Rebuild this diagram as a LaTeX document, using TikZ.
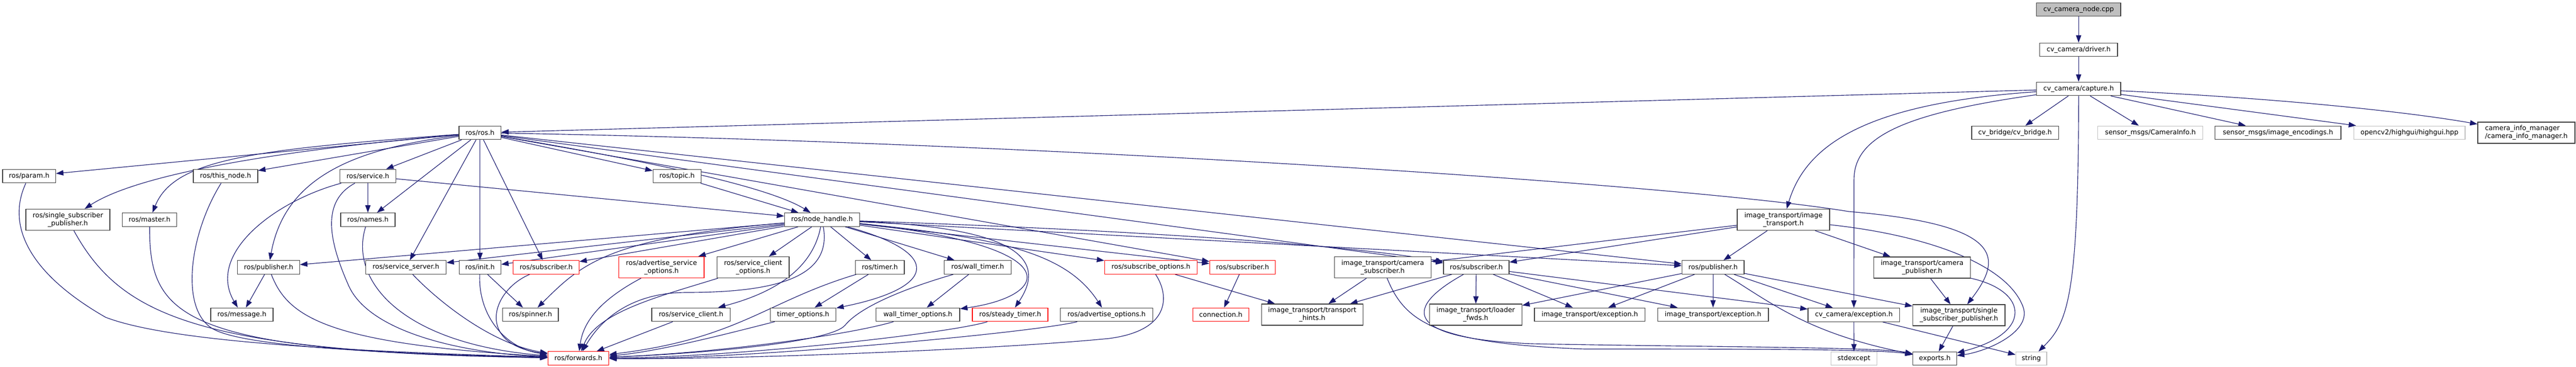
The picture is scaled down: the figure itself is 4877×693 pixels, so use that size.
\documentclass[tikz,border=0pt]{standalone}
\usepackage{fontspec}
\setmainfont{DejaVu Sans}
\usetikzlibrary{arrows.meta,backgrounds}
\definecolor{edgecol}{RGB}{25,25,112}
\definecolor{nodeline}{RGB}{64,64,64}
\definecolor{greyline}{RGB}{191,191,191}
\definecolor{rootfill}{RGB}{191,191,191}
\begin{document}
\begin{tikzpicture}[x=0.75pt,y=-0.75pt,
  nb/.style={draw=nodeline, line width=1pt, fill=white, inner sep=0pt, minimum height=19.1pt, font=\fontsize{9.5}{11.2}\selectfont, text=black},
  two/.style={minimum height=30pt, align=center},
  redb/.style={nb, draw=red},
  greyb/.style={nb, draw=greyline},
  rootb/.style={nb, fill=rootfill},
  e/.style={draw=edgecol, line width=0.85pt, -{Triangle[length=10.5pt,width=7.5pt]}}]
\begin{scope}[on background layer]
\fill[white] (0,0) rectangle (4877,693);
\end{scope}
\path[use as bounding box] (0,0) rectangle (4877,693);
% row 0-2
\node[rootb, minimum width=119.5pt] (cpp) at (3935.3,18) {cv\_camera\_node.cpp};
\node[nb, minimum width=110.5pt] (driver) at (3935.3,94) {cv\_camera/driver.h};
\node[nb, minimum width=119.3pt] (capture) at (3935.3,168) {cv\_camera/capture.h};
% row 251
\node[nb, minimum width=59.5pt] (ros) at (908.7,251) {ros/ros.h};
\node[nb, minimum width=123.2pt] (cvbridge) at (3815,251) {cv\_bridge/cv\_bridge.h};
\node[greyb, minimum width=149.3pt] (caminfo) at (4071.2,251) {sensor\_msgs/CameraInfo.h};
\node[nb, minimum width=178.9pt] (imenc) at (4312.6,251) {sensor\_msgs/image\_encodings.h};
\node[greyb, minimum width=158pt] (highgui) at (4561.7,251) {opencv2/highgui/highgui.hpp};
\node[nb, minimum height=30pt, align=left, minimum width=138pt] (caminfomgr) at (4783,251) {camera\_info\_manager\\/camera\_info\_manager.h};
% row 333
\node[nb, minimum width=75.2pt] (param) at (55.2,333) {ros/param.h};
\node[nb, minimum width=91.5pt] (thisnode) at (427,333) {ros/this\_node.h};
\node[nb, minimum width=79.3pt] (service) at (696.5,333) {ros/service.h};
\node[nb, minimum width=68.3pt] (topic) at (1281.8,333) {ros/topic.h};
% row 415
\node[nb, two, minimum width=119.3pt] (ssp) at (128.5,415.5) {ros/single\_subscriber\\\_publisher.h};
\node[nb, minimum width=77.3pt] (master) at (283.2,415.5) {ros/master.h};
\node[nb, minimum width=77.3pt] (names) at (696.5,415.5) {ros/names.h};
\node[nb, minimum width=106.5pt] (nh) at (1556.3,415.5) {ros/node\_handle.h};
\node[nb, two, minimum width=131.3pt] (itimg) at (3376.5,415.5) {image\_transport/image\\\_transport.h};
% row 505
\node[nb, minimum width=88.2pt] (pub1) at (508.5,505.5) {ros/publisher.h};
\node[nb, minimum width=114.3pt] (srvserver) at (768.5,505.5) {ros/service\_server.h};
\node[nb, minimum width=59.3pt] (init) at (908.7,505.5) {ros/init.h};
\node[redb, minimum width=93.5pt] (sub1) at (1034,505.5) {ros/subscriber.h};
\node[redb, two, minimum width=121pt] (advsrvopt) at (1252.3,505.5) {ros/advertise\_service\\\_options.h};
\node[nb, two, minimum width=102.2pt] (srvclopt) at (1425.8,505.5) {ros/service\_client\\\_options.h};
\node[nb, minimum width=69.2pt] (timer) at (1665.8,505.5) {ros/timer.h};
\node[nb, minimum width=95pt] (walltimer) at (1851,505.5) {ros/wall\_timer.h};
\node[redb, minimum width=131.6pt] (subopt) at (2179,505.5) {ros/subscribe\_options.h};
\node[redb, minimum width=93.3pt] (sub2) at (2352.5,505.5) {ros/subscriber.h};
\node[nb, two, minimum width=137.3pt] (camsub) at (2617.8,505.5) {image\_transport/camera\\\_subscriber.h};
\node[nb, minimum width=93pt] (sub3) at (2795,505.5) {ros/subscriber.h};
\node[nb, minimum width=88.3pt] (pub2) at (3243.2,505.5) {ros/publisher.h};
\node[nb, two, minimum width=137pt] (campub) at (3639,506) {image\_transport/camera\\\_publisher.h};
% row 595
\node[nb, minimum width=88.3pt] (message) at (458,595) {ros/message.h};
\node[nb, minimum width=79pt] (spinner) at (1004.3,595) {ros/spinner.h};
\node[nb, minimum width=111.5pt] (srvclient) at (1308.3,595) {ros/service\_client.h};
\node[nb, minimum width=93.3pt] (timeropt) at (1520.5,595) {timer\_options.h};
\node[nb, minimum width=119pt] (walltimeropt) at (1737.7,595) {wall\_timer\_options.h};
\node[redb, minimum width=107.3pt] (steady) at (1912.5,595) {ros/steady\_timer.h};
\node[nb, minimum width=131.6pt] (advopt) at (2095,595) {ros/advertise\_options.h};
\node[redb, minimum width=79.5pt] (connection) at (2311.3,595) {connection.h};
\node[nb, two, minimum width=144pt] (hints) at (2484.3,595) {image\_transport/transport\\\_hints.h};
\node[nb, two, minimum width=131.3pt] (loader) at (2793.8,595) {image\_transport/loader\\\_fwds.h};
\node[nb, minimum width=157.3pt] (exc1) at (3009.8,595) {image\_transport/exception.h};
\node[nb, minimum width=157.3pt] (exc2) at (3243.2,595) {image\_transport/exception.h};
\node[nb, minimum width=130.3pt] (cvexc) at (3509.8,595.5) {cv\_camera/exception.h};
\node[nb, two, minimum width=131pt] (itssp) at (3708.7,596) {image\_transport/single\\\_subscriber\_publisher.h};
% row 678
\node[redb, minimum width=86.6pt] (forwards) at (1095,677.5) {ros/forwards.h};
\node[greyb, minimum width=65pt] (stdexcept) at (3510,678) {stdexcept};
\node[nb, minimum width=62pt] (exports) at (3663,678) {exports.h};
\node[greyb, minimum width=44pt] (string) at (3845.7,678) {string};

\begin{scope}[on background layer]
% capture
\draw[e] (cpp) -- (driver);
\draw[e] (driver) -- (capture);
\draw[e] (capture) -- (ros);
\draw[e] (capture) .. controls (3540,195) and (3420,270) .. (itimg);
\draw[e] (capture) .. controls (3600,215) and (3510,260) .. (3510,340) -- (cvexc);
\draw[e] (capture) -- (cvbridge);
\draw[e] (capture) -- (caminfo);
\draw[e] (capture) -- (imenc);
\draw[e] (capture) -- (highgui);
\draw[e] (capture) .. controls (4300,185) and (4550,210) .. (caminfomgr);
\draw[e] (capture) .. controls (3935,560) and (3915,610) .. (string);
% ros
\draw[e] (ros) -- (param);
\draw[e] (ros) .. controls (520,285) and (260,330) .. (ssp);
\draw[e] (ros) .. controls (480,283) and (330,300) .. (master);
\draw[e] (ros) -- (thisnode);
\draw[e] (ros) .. controls (680,280) and (540,330) .. (pub1);
\draw[e] (ros) -- (service);
\draw[e] (ros) -- (names);
\draw[e] (ros) -- (srvserver);
\draw[e] (ros) -- (init);
\draw[e] (ros) -- (sub1);
\draw[e] (ros) -- (topic);
\draw[e] (ros) .. controls (1200,300) and (1450,350) .. (nh);
\draw[e] (ros) -- (sub2);
\draw[e] (ros) -- (pub2);
\draw[e] (ros) -- (sub3);
\draw[e] (ros) .. controls (2000,270) and (3200,350) .. (3500,400) .. controls (3800,425) and (3790,490) .. (itssp);
% service, names, topic
\draw[e] (service) -- (names);
\draw[e] (service) .. controls (520,380) and (390,480) .. (message);
\draw[e] (service) .. controls (610,380) and (620,450) .. (660,540) .. controls (700,630) and (880,668) .. (forwards);
\draw[e] (service) -- (nh);
\draw[e] (topic) -- (nh);
\draw[e] (names) .. controls (660,530) and (760,650) .. (forwards);
% left nodes to forwards
\draw[e] (param) .. controls (10,430) and (60,520) .. (200,600) .. controls (330,650) and (700,665) .. (forwards);
\draw[e] (ssp) .. controls (230,600) and (380,665) .. (forwards);
\draw[e] (master) .. controls (283,600) and (340,665) .. (forwards);
\draw[e] (thisnode) .. controls (360,440) and (340,580) .. (400,620) .. controls (460,660) and (800,670) .. (forwards);
\draw[e] (pub1) -- (message);
\draw[e] (pub1) .. controls (545,600) and (620,650) .. (forwards);
\draw[e] (srvserver) .. controls (830,570) and (930,650) .. (forwards);
\draw[e] (init) .. controls (905,600) and (960,660) .. (forwards);
\draw[e] (init) -- (spinner);
\draw[e] (sub1) .. controls (930,550) and (900,650) .. (forwards);
% node_handle
\draw[e] (nh) -- (pub1);
\draw[e] (nh) -- (srvserver);
\draw[e] (nh) -- (init);
\draw[e] (nh) -- (sub1);
\draw[e] (nh) .. controls (1150,450) and (1100,500) .. (spinner);
\draw[e] (nh) -- (advsrvopt);
\draw[e] (nh) -- (srvclopt);
\draw[e] (nh) .. controls (1540,500) and (1480,550) .. (srvclient);
\draw[e] (nh) .. controls (1575,520) and (1480,553) .. (1300,553) .. controls (1200,553) and (1140,600) .. (forwards);
\draw[e] (nh) -- (timer);
\draw[e] (nh) -- (walltimer);
\draw[e] (nh) .. controls (1790,480) and (1770,545) .. (timeropt);
\draw[e] (nh) .. controls (2030,465) and (1990,560) .. (walltimeropt);
\draw[e] (nh) .. controls (1900,430) and (1990,480) .. (steady);
\draw[e] (nh) .. controls (1900,450) and (2020,480) .. (advopt);
\draw[e] (nh) -- (subopt);
\draw[e] (nh) -- (sub2);
\draw[e] (nh) .. controls (2000,430) and (2500,455) .. (sub3);
\draw[e] (nh) -- (pub2);
% middle nodes to forwards
\draw[e] (advsrvopt) .. controls (1150,560) and (1105,600) .. (forwards);
\draw[e] (srvclopt) .. controls (1250,560) and (1130,590) .. (forwards);
\draw[e] (srvclient) -- (forwards);
\draw[e] (timer) -- (timeropt);
\draw[e] (timer) .. controls (1450,570) and (1400,640) .. (forwards);
\draw[e] (walltimer) -- (walltimeropt);
\draw[e] (walltimer) .. controls (1680,555) and (1620,590) .. (1600,615) .. controls (1570,650) and (1300,670) .. (forwards);
\draw[e] (timeropt) .. controls (1400,625) and (1250,665) .. (forwards);
\draw[e] (walltimeropt) .. controls (1600,635) and (1350,668) .. (forwards);
\draw[e] (steady) .. controls (1800,630) and (1400,675) .. (forwards);
\draw[e] (advopt) .. controls (1950,630) and (1400,680) .. (forwards);
\draw[e] (subopt) .. controls (2215,560) and (2215,625) .. (2100,640) .. controls (1900,660) and (1400,680) .. (forwards);
\draw[e] (subopt) -- (hints);
\draw[e] (sub2) -- (connection);
% image_transport side
\draw[e] (camsub) -- (hints);
\draw[e] (camsub) .. controls (2660,610) and (2720,650) .. (3000,660) .. controls (3300,660) and (3560,660) .. (exports);
\draw[e] (sub3) -- (hints);
\draw[e] (sub3) -- (loader);
\draw[e] (sub3) .. controls (2660,580) and (2650,640) .. (2900,650) .. controls (3200,656) and (3560,656) .. (exports);
\draw[e] (sub3) -- (exc1);
\draw[e] (sub3) -- (exc2);
\draw[e] (sub3) -- (cvexc);
\draw[e] (pub2) -- (loader);
\draw[e] (pub2) -- (exc1);
\draw[e] (pub2) -- (exc2);
\draw[e] (pub2) -- (itssp);
\draw[e] (pub2) -- (cvexc);
\draw[e] (pub2) .. controls (3350,570) and (3420,630) .. (exports);
\draw[e] (itimg) -- (camsub);
\draw[e] (itimg) -- (sub3);
\draw[e] (itimg) -- (pub2);
\draw[e] (itimg) -- (campub);
\draw[e] (itimg) .. controls (3650,445) and (3800,500) .. (3830,580) .. controls (3848,628) and (3760,665) .. (exports);
\draw[e] (campub) -- (itssp);
\draw[e] (campub) .. controls (3840,550) and (3850,630) .. (exports);
\draw[e] (itssp) -- (exports);
\draw[e] (cvexc) -- (stdexcept);
\draw[e] (cvexc) -- (string);
\end{scope}
\end{tikzpicture}
\end{document}
